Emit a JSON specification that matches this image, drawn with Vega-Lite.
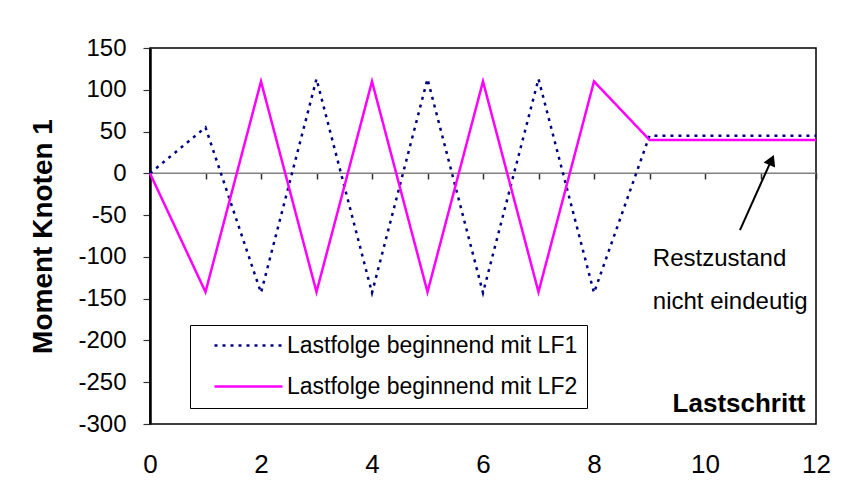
{
  "$schema": "https://vega.github.io/schema/vega-lite/v6.json",
  "autosize": {"type": "none"},
  "width": 666,
  "height": 376,
  "padding": {"left": 150, "top": 48, "right": 29, "bottom": 64},
  "background": "white",
  "config": {
    "view": {"stroke": "black", "strokeWidth": 1.5},
    "font": "Liberation Sans"
  },
  "datasets": {
    "lines": [
      {"step": 0, "moment": 0, "series": "Lastfolge beginnend mit LF1"},
      {"step": 1, "moment": 55, "series": "Lastfolge beginnend mit LF1"},
      {"step": 2, "moment": -143, "series": "Lastfolge beginnend mit LF1"},
      {"step": 3, "moment": 113, "series": "Lastfolge beginnend mit LF1"},
      {"step": 4, "moment": -143, "series": "Lastfolge beginnend mit LF1"},
      {"step": 5, "moment": 113, "series": "Lastfolge beginnend mit LF1"},
      {"step": 6, "moment": -143, "series": "Lastfolge beginnend mit LF1"},
      {"step": 7, "moment": 113, "series": "Lastfolge beginnend mit LF1"},
      {"step": 8, "moment": -143, "series": "Lastfolge beginnend mit LF1"},
      {"step": 9, "moment": 45, "series": "Lastfolge beginnend mit LF1"},
      {"step": 10, "moment": 45, "series": "Lastfolge beginnend mit LF1"},
      {"step": 11, "moment": 45, "series": "Lastfolge beginnend mit LF1"},
      {"step": 12, "moment": 45, "series": "Lastfolge beginnend mit LF1"},
      {"step": 0, "moment": 0, "series": "Lastfolge beginnend mit LF2"},
      {"step": 1, "moment": -142, "series": "Lastfolge beginnend mit LF2"},
      {"step": 2, "moment": 110, "series": "Lastfolge beginnend mit LF2"},
      {"step": 3, "moment": -142, "series": "Lastfolge beginnend mit LF2"},
      {"step": 4, "moment": 110, "series": "Lastfolge beginnend mit LF2"},
      {"step": 5, "moment": -142, "series": "Lastfolge beginnend mit LF2"},
      {"step": 6, "moment": 110, "series": "Lastfolge beginnend mit LF2"},
      {"step": 7, "moment": -142, "series": "Lastfolge beginnend mit LF2"},
      {"step": 8, "moment": 110, "series": "Lastfolge beginnend mit LF2"},
      {"step": 9, "moment": 40, "series": "Lastfolge beginnend mit LF2"},
      {"step": 10, "moment": 40, "series": "Lastfolge beginnend mit LF2"},
      {"step": 11, "moment": 40, "series": "Lastfolge beginnend mit LF2"},
      {"step": 12, "moment": 40, "series": "Lastfolge beginnend mit LF2"}
    ],
    "zero": [
      {"start": 0, "end": 12, "moment": 0}
    ],
    "notes": [
      {"step": 9.06, "moment": -102, "label": "Restzustand"},
      {"step": 9.06, "moment": -154, "label": "nicht eindeutig"}
    ],
    "arrow": [
      {"step": 10.63, "moment": -68, "step2": 11.17, "moment2": 12}
    ],
    "arrowhead": [
      {"step": 11.2, "moment": 16}
    ]
  },
  "resolve": {"axis": {"x": "independent"}},
  "layer": [
    {
      "data": {"name": "zero"},
      "mark": {"type": "rule", "color": "#808080", "strokeWidth": 1.5},
      "encoding": {
        "y": {"field": "moment", "type": "quantitative", "scale": {"domain": [-300, 150], "nice": false}},
        "x": {
          "field": "start", "type": "quantitative",
          "scale": {"domain": [0, 12], "nice": false, "zero": false},
          "axis": {
            "orient": "top", "offset": -125, "values": [0,1,2,3,4,5,6,7,8,9,10,11,12],
            "labels": false, "grid": false, "domain": false,
            "ticks": true, "tickSize": -6, "tickColor": "#333333", "tickWidth": 1.5,
            "title": null
          }
        },
        "x2": {"field": "end"}
      }
    },
    {
      "data": {"name": "lines"},
      "mark": {"type": "line", "strokeWidth": 2.5},
      "encoding": {
        "x": {
          "field": "step", "type": "quantitative",
          "scale": {"domain": [0, 12], "nice": false, "zero": false},
          "axis": {
            "orient": "bottom", "values": [0,2,4,6,8,10,12], "grid": false,
            "domain": false, "ticks": false, "labelPadding": 27, "labelFlush": false,
            "labelFontSize": 26, "labelColor": "black", "labelFont": "Liberation Sans",
            "title": "Lastschritt", "titleFontSize": 26, "titleFontWeight": "bold",
            "titleColor": "black", "titleAlign": "right", "titleBaseline": "middle",
            "titleX": 655, "titleY": -21, "titleFont": "Liberation Sans"
          }
        },
        "y": {
          "field": "moment", "type": "quantitative",
          "scale": {"domain": [-300, 150], "nice": false},
          "axis": {
            "values": [-300,-250,-200,-150,-100,-50,0,50,100,150],
            "labelExpr": "datum.value + ''",
            "grid": false, "domainColor": "black", "domainWidth": 2.5,
            "tickColor": "#333333", "tickSize": 7, "tickWidth": 1.2,
            "labelFontSize": 24, "labelColor": "black", "labelPadding": 17,
            "labelFont": "Liberation Sans",
            "title": "Moment Knoten 1", "titleFontSize": 28, "titleFontWeight": "bold",
            "titleColor": "black", "titlePadding": 20, "titleFont": "Liberation Sans"
          }
        },
        "color": {
          "field": "series", "type": "nominal",
          "scale": {"domain": ["Lastfolge beginnend mit LF1", "Lastfolge beginnend mit LF2"], "range": ["#000080", "#FF00FF"]},
          "legend": {
            "title": null, "orient": "none", "legendX": 40, "legendY": 277,
            "strokeColor": "black", "fillColor": "white", "padding": 9,
            "symbolType": "M-3.4,0H3.4", "symbolSize": 400, "symbolStrokeWidth": 2.5,
            "symbolOffset": 38, "labelOffset": 27,
            "labelFontSize": 23, "labelColor": "black", "labelFont": "Liberation Sans",
            "rowPadding": 17, "labelLimit": 400
          }
        },
        "strokeDash": {
          "field": "series", "type": "nominal",
          "scale": {"domain": ["Lastfolge beginnend mit LF1", "Lastfolge beginnend mit LF2"], "range": [[3, 5], [1, 0]]},
          "legend": null
        }
      }
    },
    {
      "data": {"name": "notes"},
      "mark": {"type": "text", "align": "left", "baseline": "middle", "fontSize": 24, "font": "Liberation Sans", "color": "black"},
      "encoding": {
        "x": {"field": "step", "type": "quantitative", "axis": null},
        "y": {"field": "moment", "type": "quantitative"},
        "text": {"field": "label"}
      }
    },
    {
      "data": {"name": "arrow"},
      "mark": {"type": "rule", "color": "black", "strokeWidth": 2},
      "encoding": {
        "x": {"field": "step", "type": "quantitative", "axis": null},
        "y": {"field": "moment", "type": "quantitative"},
        "x2": {"field": "step2"},
        "y2": {"field": "moment2"}
      }
    },
    {
      "data": {"name": "arrowhead"},
      "mark": {"type": "point", "shape": "triangle-up", "filled": true, "color": "black", "size": 160, "angle": 24, "opacity": 1},
      "encoding": {
        "x": {"field": "step", "type": "quantitative", "axis": null},
        "y": {"field": "moment", "type": "quantitative"}
      }
    }
  ]
}
